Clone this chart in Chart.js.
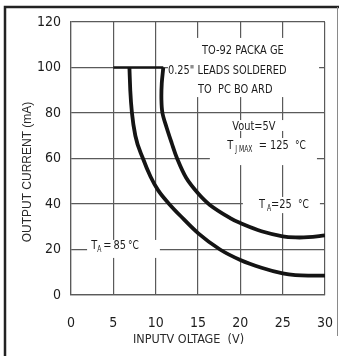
<!DOCTYPE html>
<html>
<head>
<meta charset="utf-8">
<script src="https://cdn.jsdelivr.net/npm/chart.js@4.4.1/dist/chart.umd.min.js"></script>
<style>
  html, body { margin: 0; padding: 0; background: #fff; }
  canvas { display: block; }
</style>
</head>
<body>
<canvas id="grafica" width="339" height="356"></canvas>
<script>
// curva T_A = 85 C
const voltaje85 = [6.9, 7.0, 7.2, 7.6, 8.5, 9.4, 10.3, 11.7, 13, 15, 17.6, 20, 22.5, 25, 26.5, 28, 30];
const corriente85 = [100, 90, 80, 70, 60, 52, 46, 39.6, 34.5, 27.2, 20, 15.4, 12, 9.5, 8.7, 8.5, 8.5];
// curva T_A = 25 C
const voltaje25 = [10.9, 10.72, 10.68, 10.8, 11.3, 11.9, 12.5, 13.6, 15, 16.4, 18.8, 20, 22.5, 25, 26.5, 28, 30];
const corriente25 = [100, 93, 86, 80, 73.5, 66.7, 60.3, 51.5, 44.7, 39.6, 33.8, 31.6, 28, 25.8, 25.3, 25.4, 26.2];
// limite de 100 mA
const voltajeLimite = [5, 10.9];
const corrienteLimite = [100, 100];

const ticksX = [0, 5, 10, 15, 20, 25, 30];
const ticksY = [0, 20, 40, 60, 80, 100, 120];

const puntos = (xs, ys) => xs.map((x, i) => ({ x: x, y: ys[i] }));

const fuenteNarrow = '"Liberation Sans Narrow", "DejaVu Sans Condensed", sans-serif';
const colorTexto = '#1c1c1c';
const colorGrid = '#5a5a5a';

// cajas blancas que tapan la rejilla detras de las notas (en unidades de datos)
const cajas = [
  { x0: 11.45, x1: 29.3, y0: 87, y1: 113 },
  { x0: 18.2, x1: 25.9, y0: 72.1, y1: 76.9 },
  { x0: 16.4, x1: 29.05, y0: 57.1, y1: 69 },
  { x0: 20.3, x1: 29.4, y0: 36, y1: 43.1 },
  { x0: 1.9, x1: 10.5, y0: 16.3, y1: 24.2 }
];

// notas: cada una es una lista de trozos [texto, tamaño, desplazamiento vertical]
const notas = [
  { x: 20.3, y: 107.3, partes: [['TO-92 PACKA GE', 13, 0]] },
  { x: 11.45, y: 98.5, izq: true, partes: [['0.25" LEADS SOLDERED', 13, 0]] },
  { x: 19.4, y: 90.1, partes: [['TO  PC BO ARD', 13, 0]] },
  { x: 21.6, y: 73.8, partes: [['Vout=5V', 13, 0]] },
  { x: 23.1, y: 65.5, partes: [['T', 13, 0], [' J MAX', 8, 4], ['  = 125  ', 13, 0], ['\u00B0C', 12, 0]] },
  { x: 25.15, y: 39.6, partes: [['T', 13, 0], [' A', 8, 4], ['=25  ', 13, 0], ['\u00B0C', 12, 0]] },
  { x: 5.2, y: 21.5, partes: [['T', 13, 0], ['A', 8, 4], ['\u2009=\u200985\u2009', 13, 0], ['\u00B0C', 12, 0]] }
];
const estrecho = 0.84;

const notasPlugin = {
  id: 'notas',
  beforeDatasetsDraw(chart) {
    const ctx = chart.ctx;
    const sx = chart.scales.x, sy = chart.scales.y;
    ctx.save();
    ctx.fillStyle = '#fff';
    cajas.forEach(c => {
      const l = sx.getPixelForValue(c.x0), r = sx.getPixelForValue(c.x1);
      const t = sy.getPixelForValue(c.y1), b = sy.getPixelForValue(c.y0);
      ctx.fillRect(l, t, r - l, b - t);
    });
    ctx.fillStyle = colorTexto;
    ctx.textBaseline = 'middle';
    ctx.textAlign = 'left';
    notas.forEach(n => {
      let ancho = 0;
      n.partes.forEach(p => {
        ctx.font = p[1] + 'px ' + fuenteNarrow;
        ancho += ctx.measureText(p[0]).width * estrecho;
      });
      let x = sx.getPixelForValue(n.x);
      if (!n.izq) x -= ancho / 2;
      const y = sy.getPixelForValue(n.y);
      n.partes.forEach(p => {
        ctx.font = p[1] + 'px ' + fuenteNarrow;
        ctx.save();
        ctx.translate(x, y + p[2]);
        ctx.scale(estrecho, 1);
        ctx.fillText(p[0], 0, 0);
        ctx.restore();
        x += ctx.measureText(p[0]).width * estrecho;
      });
    });
    ctx.restore();
  },
  afterDraw(chart) {
    const ctx = chart.ctx;
    ctx.save();
    // marco exterior
    ctx.strokeStyle = '#222';
    ctx.lineWidth = 2.5;
    ctx.beginPath();
    ctx.moveTo(5, 356);
    ctx.lineTo(5, 7);
    ctx.lineTo(339, 7);
    ctx.stroke();
    ctx.strokeStyle = '#8a8a8a';
    ctx.lineWidth = 1;
    ctx.beginPath();
    ctx.moveTo(337.5, 7);
    ctx.lineTo(337.5, 336);
    ctx.stroke();

    // titulos de los ejes
    ctx.fillStyle = '#2a2a2a';
    ctx.textAlign = 'center';
    ctx.textBaseline = 'middle';
    ctx.font = '12.5px ' + fuenteNarrow;
    ctx.fillText('INPUTV OLTAGE  (V)', 188.5, 340);
    ctx.translate(28, 172);
    ctx.rotate(-Math.PI / 2);
    ctx.font = '12px "Liberation Sans", Arial, sans-serif';
    ctx.fillText('OUTPUT CURRENT (mA)', 0, 0);
    ctx.restore();
  }
};

const curva = {
  borderColor: '#141414',
  borderWidth: 3.8,
  pointRadius: 0,
  tension: 0.35,
  fill: false
};

new Chart(document.getElementById('grafica'), {
  type: 'scatter',
  data: {
    datasets: [
      Object.assign({ label: 'TA=85', data: puntos(voltaje85, corriente85), showLine: true }, curva, { cubicInterpolationMode: 'monotone' }),
      Object.assign({ label: 'TA=25', data: puntos(voltaje25, corriente25), showLine: true }, curva),
      Object.assign({ label: 'limite', data: puntos(voltajeLimite, corrienteLimite), showLine: true }, curva, { borderWidth: 2.5, tension: 0 })
    ]
  },
  options: {
    responsive: false,
    animation: false,
    events: [],
    layout: { padding: { top: 22, right: 14, left: 0, bottom: 0 } },
    plugins: { legend: { display: false }, tooltip: { enabled: false } },
    scales: {
      x: {
        type: 'linear',
        min: 0,
        max: 30,
        afterBuildTicks: s => { s.ticks = ticksX.map(v => ({ value: v })); },
        afterFit: s => { s.height = 61; s.paddingLeft = 0; s.paddingRight = 0; },
        grid: { color: colorGrid, lineWidth: 1.2, drawTicks: false },
        border: { color: colorGrid, width: 1.2 },
        ticks: { color: colorTexto, font: { family: fuenteNarrow, size: 14 }, padding: 20, maxRotation: 0 }
      },
      y: {
        type: 'linear',
        min: 0,
        max: 120,
        afterBuildTicks: s => { s.ticks = ticksY.map(v => ({ value: v })); },
        afterFit: s => { s.width = 71; s.paddingTop = 0; s.paddingBottom = 0; },
        grid: { color: colorGrid, lineWidth: 1.2, drawTicks: false },
        border: { color: colorGrid, width: 1.2 },
        ticks: { color: colorTexto, font: { family: fuenteNarrow, size: 14 }, padding: 10 }
      }
    }
  },
  plugins: [notasPlugin]
});
</script>
</body>
</html>
